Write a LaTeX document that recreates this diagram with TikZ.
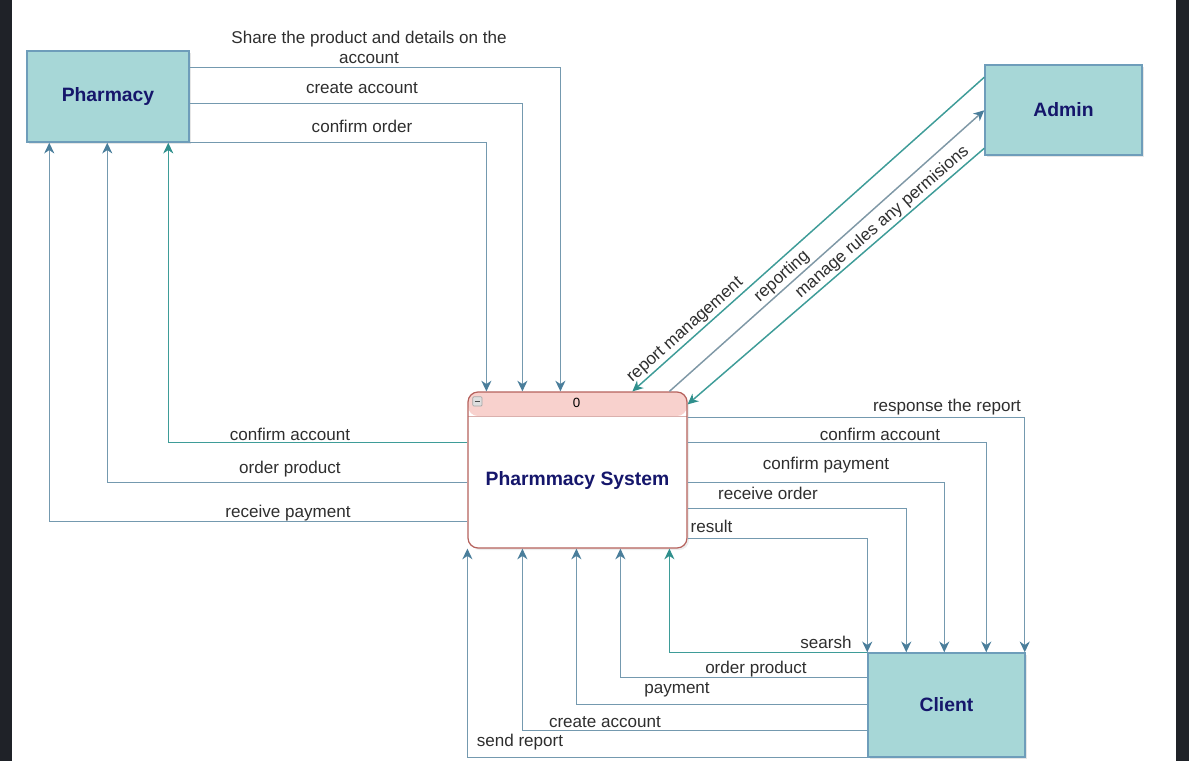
\documentclass[tikz,border=0pt]{standalone}
\usepackage{fontspec}
\setmainfont{Liberation Sans}
\usetikzlibrary{arrows.meta,calc,shadows}
\definecolor{frame}{HTML}{1F2228}
\definecolor{entityFill}{HTML}{A7D7D7}
\definecolor{entityLine}{HTML}{6E9DBA}
\definecolor{entityText}{HTML}{15166B}
\definecolor{procLine}{HTML}{B5615C}
\definecolor{headFill}{HTML}{F8D1CD}
\definecolor{flowLine}{HTML}{7499AF}
\definecolor{tealLine}{HTML}{3E9C98}
\definecolor{grayLine}{HTML}{7F98A6}
\definecolor{tipBlue}{HTML}{4A7E9B}
\definecolor{tipTeal}{HTML}{2F8F8C}
\definecolor{labelText}{HTML}{2E2E2E}
\tikzset{
  entity/.style={draw=entityLine, fill=entityFill, line width=1.1pt, text=entityText,
    font=\fontsize{14.5}{17}\selectfont\bfseries,
    drop shadow={opacity=0.2, shadow xshift=1.5pt, shadow yshift=-1.5pt}},
  process/.style={draw=procLine, fill=white, rounded corners=7.5pt, line width=0.9pt,
    drop shadow={opacity=0.15, shadow xshift=1.5pt, shadow yshift=-1.5pt},
    path picture={\fill[headFill] (path picture bounding box.north west) rectangle ($(path picture bounding box.north east)+(0,24)$);
      \draw[procLine!50, line width=0.5pt] ($(path picture bounding box.north west)+(0,24)$) -- ($(path picture bounding box.north east)+(0,24)$);}},
  process title/.style={text=entityText, font=\fontsize{14.5}{17}\selectfont\bfseries},
  head label/.style={text=black, font=\fontsize{10}{12}\selectfont},
  collapse/.style={draw=gray!70, fill=gray!25, minimum size=7pt, inner sep=0pt, rounded corners=0.8pt, line width=0.5pt,
    path picture={\draw[gray!60!black, line width=0.8pt] ([xshift=1.4pt]path picture bounding box.west) -- ([xshift=-1.4pt]path picture bounding box.east);}},
  flow/.style={draw=flowLine, line width=1.1pt, arrows={-Stealth[length=8pt,width=7.5pt,inset=2.5pt,color=tipBlue]}},
  flow teal/.style={flow, draw=tealLine, arrows={-Stealth[length=8pt,width=7.5pt,inset=2.5pt,color=tipTeal]}},
  flow gray/.style={flow, draw=grayLine},
  flow label/.style={text=labelText, font=\fontsize{12.8}{14.5}\selectfont},
  diag label/.style={flow label, sloped, above, inner sep=1.5pt}
}

\begin{document}
\begin{tikzpicture}[x=0.75pt,y=-0.75pt]
  \useasboundingbox (0,0) rectangle (1189,761);
  \fill[frame] (0,0) rectangle (12,761);
  \fill[frame] (1176,0) rectangle (1189,761);

  \node[entity, minimum width=121.5pt, minimum height=68.25pt] at (108,96.5) (pharmacy) {Pharmacy};
  \node[entity, minimum width=117.75pt, minimum height=67.5pt] at (1063.5,110) (admin) {Admin};
  \node[entity, minimum width=117.75pt, minimum height=78pt] at (946.5,705) (client) {Client};
  \node[process, minimum width=164.25pt, minimum height=117pt] at (577.5,470) (sys) {};

  \node[collapse] at ($(sys.north west)+(10,10)$) (sys minus) {};
  \node[head label] at ($(sys.north)+(-1,11.5)$) (sys id) {0};
  \node[process title] at ($(sys.center)+(0,10)$) (sys title) {Pharmmacy System};

  % pharmacy -> system
  \draw[flow] ($(pharmacy.north east)+(0,17)$) -| ($(sys.north west)+(93,0)$);
  \draw[flow] ($(pharmacy.north east)+(0,53)$) -| ($(sys.north west)+(55,0)$);
  \draw[flow] (pharmacy.south east) -| ($(sys.north west)+(19,0)$);

  \node[flow label, align=center] at (369,47.5) (share label) {Share the product and details on the\\account};
  \node[flow label] at (362,88) (pharmacy create label) {create account};
  \node[flow label] at (362,126) (confirm order label) {confirm order};

  % system -> pharmacy
  \draw[flow teal] ($(sys.north west)+(0,51)$) -| ($(pharmacy.south west)+(142,0)$);
  \draw[flow] ($(sys.north west)+(0,91)$) -| ($(pharmacy.south west)+(81,0)$);
  \draw[flow] ($(sys.north west)+(0,130)$) -| ($(pharmacy.south west)+(23,0)$);

  \node[flow label] at (290,434) (pharmacy confirm label) {confirm account};
  \node[flow label] at (290,469) (pharmacy order label) {order product};
  \node[flow label] at (288,513) (receive payment label) {receive payment};

  % admin <-> system
  \draw[flow teal] ($(admin.north west)+(0,13)$) -- node[diag label, pos=0.83] (report management label) {report management} ($(sys.north west)+(165,0)$);
  \draw[flow gray] ($(sys.north west)+(202,0)$) -- node[diag label, pos=0.38] (reporting label) {reporting} ($(admin.north west)+(0,46)$);
  \draw[flow teal] ($(admin.north west)+(0,84)$) -- node[diag label, pos=0.32] (manage label) {manage rules any permisions} ($(sys.north east)+(0,13)$);

  % system -> client
  \draw[flow] ($(sys.north east)+(0,26)$) -| ($(client.north east)+(-1,0)$);
  \draw[flow] ($(sys.north east)+(0,51)$) -| ($(client.north west)+(119,0)$);
  \draw[flow] ($(sys.north east)+(0,91)$) -| ($(client.north west)+(77,0)$);
  \draw[flow] ($(sys.north east)+(0,117)$) -| ($(client.north west)+(39,0)$);
  \draw[flow] ($(sys.north east)+(0,147)$) -| (client.north west);

  \node[flow label] at (947,407) (response label) {response the report};
  \node[flow label] at (880,434) (client confirm label) {confirm account};
  \node[flow label] at (826,465) (confirm payment label) {confirm payment};
  \node[flow label] at (768,493) (receive order label) {receive order};
  \node[flow label, anchor=west] at (686,526) (result label) {result};

  % client -> system
  \draw[flow teal] (client.north west) -| ($(sys.south west)+(202,0)$);
  \draw[flow] ($(client.north west)+(0,25)$) -| ($(sys.south west)+(153,0)$);
  \draw[flow] ($(client.north west)+(0,52)$) -| ($(sys.south west)+(109,0)$);
  \draw[flow] ($(client.north west)+(0,78)$) -| ($(sys.south west)+(55,0)$);
  \draw[flow] (client.south west) -| (sys.south west);

  \node[flow label] at (826,642) (searsh label) {searsh};
  \node[flow label] at (756,669) (client order label) {order product};
  \node[flow label] at (677,690) (payment label) {payment};
  \node[flow label] at (605,722) (client create label) {create account};
  \node[flow label] at (520,742) (send report label) {send report};
\end{tikzpicture}
\end{document}
